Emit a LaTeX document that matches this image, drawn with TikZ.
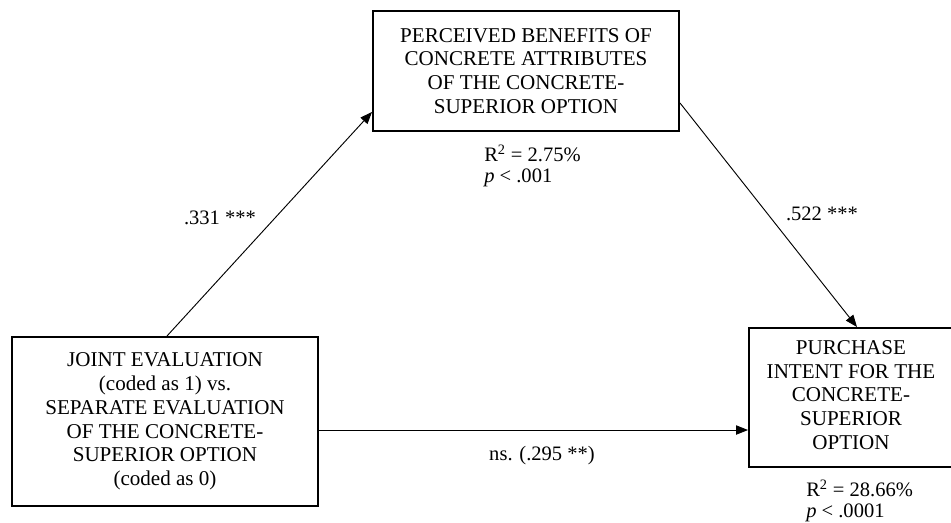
\documentclass[tikz,border=0pt]{standalone}
\usepackage{fontspec}
\setmainfont{Liberation Serif}
\usetikzlibrary{arrows.meta}
\begin{document}
\begin{tikzpicture}[x=0.75pt,y=-0.75pt,
  box/.style={draw, line width=1.5pt, align=center, inner sep=0pt,
    font=\fontsize{15.8}{17.8}\selectfont},
  txt/.style={align=center, inner sep=0pt, font=\fontsize{15.8}{17.8}\selectfont},
  arr/.style={line width=0.7pt, -{Triangle[length=9pt,width=7pt]}},
  lab/.style={font=\fontsize{15.4}{16}\selectfont, inner sep=0pt}]
\useasboundingbox (0,0) rectangle (951,523);
\node[box, minimum width=229.5pt, minimum height=90pt] (top) at (526,71)
  {PERCEIVED BENEFITS OF\\CONCRETE ATTRIBUTES\\OF THE CONCRETE-\\SUPERIOR OPTION};
\node[box, minimum width=229.5pt, minimum height=126.75pt] (left) at (165,421.5)
  {JOINT EVALUATION\\(coded as 1) vs.\\SEPARATE EVALUATION\\OF THE CONCRETE-\\SUPERIOR OPTION\\(coded as 0)};
\node[box, minimum width=165pt, minimum height=104.25pt] (right) at (859,397.5) {};
\node[txt] (righttext) at (851,395)
  {PURCHASE\\INTENT FOR THE\\CONCRETE-\\SUPERIOR\\OPTION};
\draw[arr] ([xshift=117pt]left.north west) -- ([yshift=-30.75pt]top.west);
\draw[arr] ([yshift=-24pt]top.east) -- ([xshift=81.75pt]right.north west);
\draw[arr] ([yshift=-6.4pt]left.east) -- ([yshift=-6.4pt]left.east -| right.west);
\node[lab] (l1) at (220,218) {.331 ***};
\node[lab] (l2) at (822,214) {.522 ***};
\node[lab] (l3) at (542,456) {ns. (.295 **)};
\node[lab, anchor=west, align=left] (r1) at (484,166) {R\textsuperscript{2} = 2.75\%\\\textit{p} < .001};
\node[lab, anchor=west, align=left] (r2) at (806,501) {R\textsuperscript{2} = 28.66\%\\\textit{p} < .0001};
\end{tikzpicture}
\end{document}
